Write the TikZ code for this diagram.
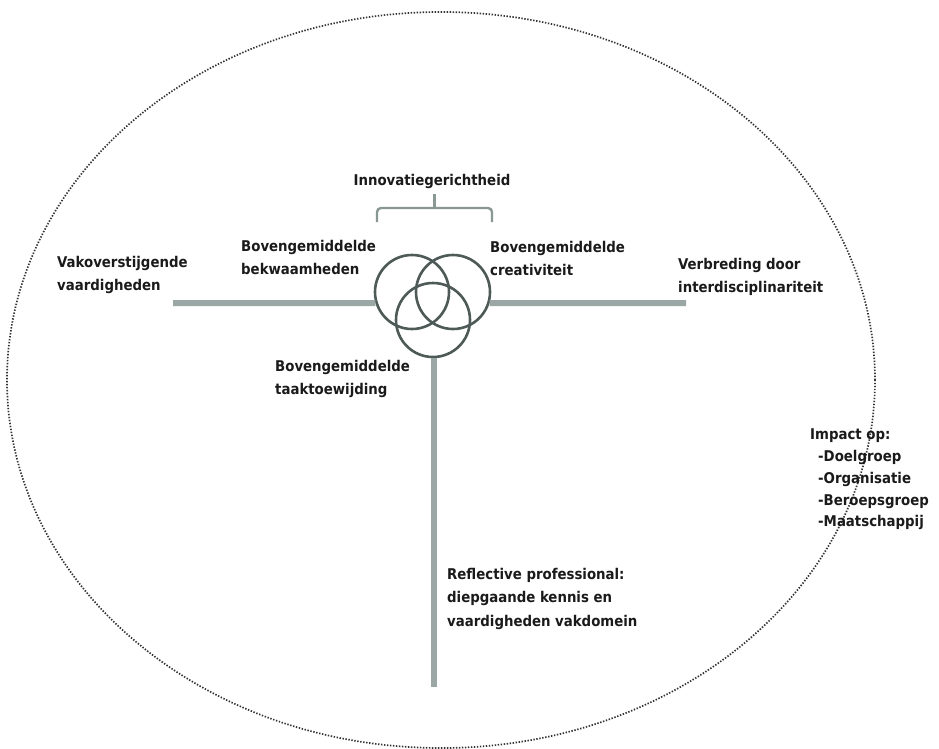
\documentclass[tikz,border=0pt]{standalone}
\usepackage{fontspec}
\usetikzlibrary{shapes.geometric}
\setmainfont{DejaVu Sans Condensed}
\definecolor{bar}{HTML}{9AA7A4}
\definecolor{ring}{HTML}{4E5A57}
\definecolor{brace}{HTML}{8A9894}
\definecolor{txt}{HTML}{1A1A1A}
\begin{document}
\begin{tikzpicture}[x=1pt,y=-1pt,
  lbl/.style={font=\bfseries\fontsize{14.8}{23.5}\selectfont, text=txt, align=left, anchor=north west, inner sep=0pt},
  ringnode/.style={circle, draw=ring, line width=2.6pt, minimum size=74pt, inner sep=0pt},
  barline/.style={draw=bar, line width=6pt},
  dots/.style={draw=black!80, line width=1.7pt, dash pattern=on 1.4pt off 1.6pt}]
\useasboundingbox (0,0) rectangle (939,749);
% outer dotted ellipse
\node[dots, ellipse, minimum width=868pt, minimum height=736pt, inner sep=0pt] (outer) at (441,380) {};
% circles
\node[ringnode] (cL) at (412,292) {};
\node[ringnode] (cR) at (453,292) {};
\node[ringnode] (cB) at (433,320) {};
% bars
\coordinate (lend) at (173,303);
\coordinate (rend) at (686,303);
\coordinate (bend) at (434,687);
\draw[barline] (lend) -- (cL.197);
\draw[barline] (cR.-17) -- (rend);
\draw[barline] (cB.south -| bend) -- (bend);
% brace
\coordinate (b1) at (377,222);
\coordinate (b2) at (492,222);
\coordinate (btop) at (434.5,194);
\draw[brace, line width=2.4pt, rounded corners=4pt] (b1) -- (377,208) -- (492,208) -- (b2);
\draw[brace, line width=2.4pt] (434.5,208) -- (btop);
% labels
\node[lbl, anchor=south] (innov) at (432,189) {Innovatiegerichtheid};
\node[lbl] (vak) at (57,256) {Vakoverstijgende\\vaardigheden};
\node[lbl] (bekw) at (241,240) {Bovengemiddelde\\bekwaamheden};
\node[lbl] (crea) at (490,241) {Bovengemiddelde\\creativiteit};
\node[lbl] (verb) at (678,258) {Verbreding door\\interdisciplinariteit};
\node[lbl] (taak) at (275,360) {Bovengemiddelde\\taaktoewijding};
\node[lbl] (refl) at (447,568) {Reflective professional:\\diepgaande kennis en\\vaardigheden vakdomein};
\node[lbl, font=\bfseries\fontsize{14.8}{21.7}\selectfont] (impact) at (810,429) {Impact op:\\\hspace*{8pt}-Doelgroep\\\hspace*{8pt}-Organisatie\\\hspace*{8pt}-Beroepsgroep\\\hspace*{8pt}-Maatschappij};
\end{tikzpicture}
\end{document}
